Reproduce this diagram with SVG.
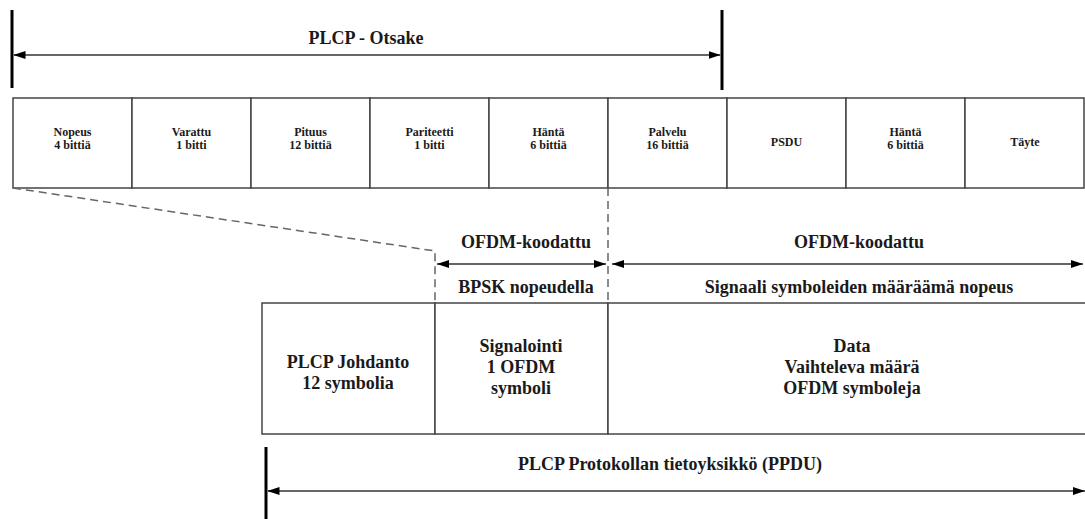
<svg xmlns="http://www.w3.org/2000/svg" width="1085" height="519" viewBox="0 0 1085 519">
<defs>
<marker id="ah" viewBox="0 0 12 8" refX="12" refY="4" markerWidth="12" markerHeight="8" markerUnits="userSpaceOnUse" orient="auto-start-reverse">
<path d="M0,0 L12,4 L0,8 Z" fill="#000"/>
</marker>
<style>
text{font-family:"Liberation Serif","Times New Roman",serif;font-weight:bold;fill:#1a1a1a;text-anchor:middle}
.s{font-size:12px}
.l{font-size:18px}
.box{fill:#fff;stroke:#444;stroke-width:1.5}
.arr{stroke:#666;stroke-width:2;fill:none;marker-start:url(#ah);marker-end:url(#ah)}
.bar{stroke:#000;stroke-width:3}
.dash{stroke:#666;stroke-width:1.5;stroke-dasharray:8 5;fill:none}
</style>
</defs>
<rect width="1085" height="519" fill="#fff"/>

<g id="header-span">
<line class="bar" x1="12" y1="10" x2="12" y2="88"/>
<line class="bar" x1="722" y1="10" x2="722" y2="90"/>
<line class="arr" x1="13.5" y1="55" x2="720.5" y2="55"/>
<text class="l" x="366" y="44">PLCP - Otsake</text>
</g>

<g id="field-nopeus"><rect class="box" x="13" y="98" width="119" height="90"/><text class="s" x="72.5" y="136">Nopeus</text><text class="s" x="72.5" y="149">4 bittiä</text></g>
<g id="field-varattu"><rect class="box" x="132" y="98" width="119" height="90"/><text class="s" x="191.5" y="136">Varattu</text><text class="s" x="191.5" y="149">1 bitti</text></g>
<g id="field-pituus"><rect class="box" x="251" y="98" width="119" height="90"/><text class="s" x="310.5" y="136">Pituus</text><text class="s" x="310.5" y="149">12 bittiä</text></g>
<g id="field-pariteetti"><rect class="box" x="370" y="98" width="119" height="90"/><text class="s" x="429.5" y="136">Pariteetti</text><text class="s" x="429.5" y="149">1 bitti</text></g>
<g id="field-hanta1"><rect class="box" x="489" y="98" width="119" height="90"/><text class="s" x="548.5" y="136">Häntä</text><text class="s" x="548.5" y="149">6 bittiä</text></g>
<g id="field-palvelu"><rect class="box" x="608" y="98" width="119" height="90"/><text class="s" x="667.5" y="136">Palvelu</text><text class="s" x="667.5" y="149">16 bittiä</text></g>
<g id="field-psdu"><rect class="box" x="727" y="98" width="119" height="90"/><text class="s" x="786.5" y="146">PSDU</text></g>
<g id="field-hanta2"><rect class="box" x="846" y="98" width="119" height="90"/><text class="s" x="905.5" y="136">Häntä</text><text class="s" x="905.5" y="149">6 bittiä</text></g>
<g id="field-tayte"><rect class="box" x="965" y="98" width="119" height="90"/><text class="s" x="1025" y="146">Täyte</text></g>

<g id="connectors">
<polyline class="dash" points="13,188 435,251 435,303"/>
<line class="dash" x1="608" y1="188" x2="608" y2="303"/>
<line class="arr" x1="437" y1="264" x2="606" y2="264"/>
<line class="arr" x1="612" y1="264" x2="1083" y2="264"/>
</g>

<g id="labels-signal">
<text class="l" x="526" y="248">OFDM-koodattu</text>
<text class="l" x="526" y="293">BPSK nopeudella</text>
</g>
<g id="labels-data">
<text class="l" x="859" y="248">OFDM-koodattu</text>
<text class="l" x="859" y="293">Signaali symboleiden määräämä nopeus</text>
</g>

<g id="ppdu-johdanto"><rect class="box" x="262" y="303" width="173" height="131"/><text class="l" x="348" y="368">PLCP Johdanto</text><text class="l" x="348" y="389">12 symbolia</text></g>
<g id="ppdu-signalointi"><rect class="box" x="435" y="303" width="173" height="131"/><text class="l" x="521" y="352">Signalointi</text><text class="l" x="521" y="373">1 OFDM</text><text class="l" x="521" y="394">symboli</text></g>
<g id="ppdu-data"><rect class="box" x="608" y="303" width="480" height="131"/><text class="l" x="852" y="352">Data</text><text class="l" x="852" y="373">Vaihteleva määrä</text><text class="l" x="852" y="394">OFDM symboleja</text></g>

<g id="ppdu-span">
<line class="bar" x1="266" y1="447" x2="266" y2="519"/>
<line class="arr" x1="267.5" y1="491" x2="1085" y2="491"/>
<text class="l" x="670" y="470">PLCP Protokollan tietoyksikkö (PPDU)</text>
</g>
</svg>
